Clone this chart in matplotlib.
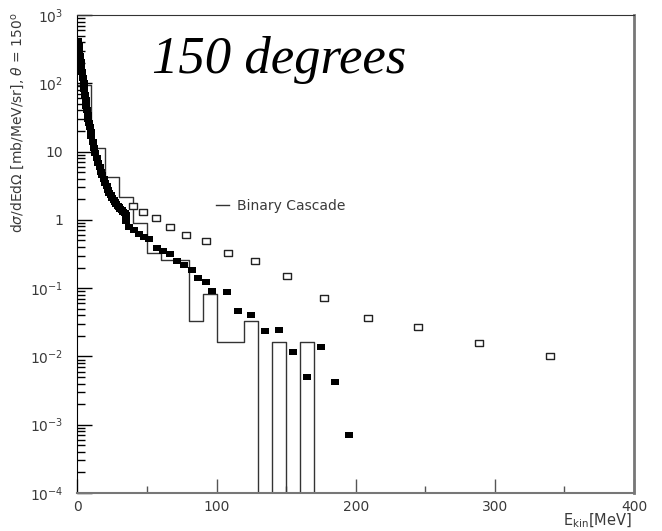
import numpy as np
import matplotlib
matplotlib.use("Agg")
import matplotlib.pyplot as plt

# Binary Cascade histogram: bin edges [MeV] and contents (0 = empty bin)
bin_edges = [0, 10, 20, 30, 40, 50, 60, 70, 80, 90, 100, 110, 120, 130, 140, 150, 160, 170, 180]
bin_vals = [94, 11.3, 4.25, 2.16, 0.90, 0.327, 0.259, 0.259, 0.033, 0.082,
            0.0163, 0.0163, 0.033, 0, 0.0163, 0, 0.0163, 0]

# filled squares
e_full = [0.5, 1.0, 1.5, 2.0, 2.5, 3.0, 3.5, 4.0, 4.5, 5.0, 5.5, 6.0, 6.5, 7.0, 7.5,
          8.0, 8.5, 9.0, 9.5, 10.0, 11, 12, 13, 14, 15, 16, 17, 18, 19, 20, 21, 22,
          23, 24, 25, 26, 27, 28, 29, 30, 31, 32, 33, 34, 35,
          35.3, 37.4, 41.0, 44.6, 48.2, 51.8, 57.6, 61.9, 66.9, 71.9, 77.0, 82.7,
          87.0, 92.1, 97.1, 107.2, 115.1, 124.5, 134.5, 144.6, 154.7, 164.7,
          174.8, 184.9, 195.0]
s_full = [410, 350, 295, 248, 208, 174, 145, 120, 100, 82, 68, 56, 47, 40, 34.5,
          30, 26, 22.5, 19.5, 17, 13.8, 11.2, 9.4, 8.0, 6.8, 5.9, 5.1, 4.5, 3.95, 3.5,
          3.1, 2.78, 2.5, 2.28, 2.1, 1.95, 1.82, 1.7, 1.6, 1.52, 1.44, 1.37, 1.3, 1.24, 1.18,
          0.96, 0.79, 0.71, 0.62, 0.56, 0.525, 0.388, 0.35, 0.317, 0.25, 0.219, 0.185,
          0.141, 0.123, 0.091, 0.088, 0.0463, 0.0405, 0.0236, 0.0244, 0.0116, 0.005,
          0.0138, 0.0042, 0.00071]

# open squares
e_open = [40.3, 47.5, 56.8, 66.9, 78.4, 92.1, 108.6, 128.0, 151.0, 177.0,
          208.6, 245.0, 288.5, 339.6]
s_open = [1.6, 1.31, 1.07, 0.79, 0.60, 0.49, 0.33, 0.25, 0.151, 0.072,
          0.0366, 0.027, 0.0158, 0.0102]

ytick_vals = [1e-4, 1e-3, 1e-2, 1e-1, 1, 10, 1e2, 1e3]
ytick_text = [r'$10^{-4}$', r'$10^{-3}$', r'$10^{-2}$', r'$10^{-1}$', '1', '10',
              r'$10^{2}$', r'$10^{3}$']
xtick_vals = [0, 100, 200, 300, 400]

txtcol = '#3a3a3a'

# slightly flat box marker
box = [(-1, -0.8), (1, -0.8), (1, 0.8), (-1, 0.8), (-1, -0.8)]

fig = plt.figure(figsize=(6.62, 5.31), dpi=100)
ax = fig.add_axes([0.1168, 0.0716, 0.841, 0.9002])

ax.step(bin_edges, bin_vals + [bin_vals[-1]], where='post', color='#333333', lw=1.0,
        label='Binary Cascade')
ax.plot(e_full, s_full, marker=box, ls='none', color='black', markersize=5.4,
        markeredgewidth=0)
ax.plot(e_open, s_open, marker=box, ls='none', markerfacecolor='white',
        markeredgecolor='#222222', markersize=5.8, markeredgewidth=1.0)

ax.set_yscale('log')
ax.set_xlim(0, 400)
ax.set_ylim(1e-4, 1e3)

ax.set_yticks(ytick_vals)
ax.set_yticklabels(ytick_text)
ax.set_xticks(xtick_vals)
ax.set_xticks([50, 150, 250, 350], minor=True)
ax.yaxis.set_minor_locator(matplotlib.ticker.LogLocator(base=10, subs=np.arange(2, 10)))
ax.yaxis.set_minor_formatter(matplotlib.ticker.NullFormatter())

ax.tick_params(axis='y', which='major', direction='in', length=11, width=1,
               labelsize=10, labelcolor=txtcol, pad=10)
ax.tick_params(axis='y', which='minor', direction='in', length=6, width=1)
ax.tick_params(axis='x', which='major', direction='in', length=10, width=1,
               labelsize=10, labelcolor=txtcol, pad=5, color='#555555')
ax.tick_params(axis='x', which='minor', direction='in', length=5, width=1, color='#555555')

ax.spines['left'].set_color('black')
ax.spines['top'].set_color('#333333')
ax.spines['bottom'].set_color('#777777')
ax.spines['bottom'].set_linewidth(1.5)
ax.spines['right'].set_color('#777777')
ax.spines['right'].set_linewidth(2.0)

ax.legend(loc='center left', bbox_to_anchor=(0.249, 0.60), frameon=False,
          handlelength=0.95, handletextpad=0.6, borderpad=0, borderaxespad=0,
          prop={'size': 10}, labelcolor=txtcol)

ax.text(0.135, 0.905, '150 degrees', transform=ax.transAxes, fontsize=38,
        family='Liberation Serif', style='italic', va='center', ha='left')

fig.text(0.027, 0.978, r'd$\sigma$/dEd$\Omega$ [mb/MeV/sr], $\theta$ = 150$^{\rm o}$',
         rotation=90, va='top', ha='center', fontsize=10, color=txtcol)
fig.text(0.955, 0.02, r'E$_{\rm kin}$[MeV]', ha='right', va='center', fontsize=10.5,
         color=txtcol)

fig.savefig('out.png', dpi=100)
